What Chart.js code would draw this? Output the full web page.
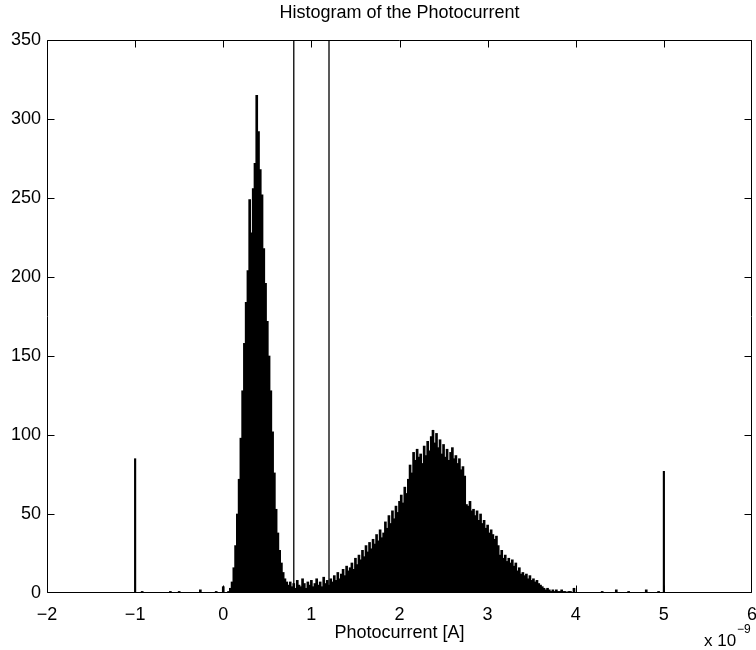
<!DOCTYPE html>
<html>
<head>
<meta charset="utf-8">
<title>Histogram of the Photocurrent</title>
<script src="https://cdn.jsdelivr.net/npm/chart.js@4/dist/chart.umd.min.js"></script>
<style>
  html, body { margin: 0; padding: 0; background: #fff; overflow: hidden; }
  canvas { display: block; }
</style>
</head>
<body>
<canvas id="hist" width="756" height="650"></canvas>
<script>
// histogram bins (x in units of 1e-9 A)
var binStart = 0.06;
var binWidth = 0.02;
var counts = [
  1, 3, 7, 16, 30, 50, 72, 98, 128, 158,          // 0.06 - 0.24
  184, 204, 249, 228, 256, 272, 315, 292, 268, 252, // 0.26 - 0.44
  218, 196, 172, 150, 128, 102, 76, 53, 38, 27,   // 0.46 - 0.64
  19, 13, 9, 7, 5, 7, 4, 6, 3, 8,                 // 0.66 - 0.84
  5, 4, 9, 6, 3, 7, 5, 8, 4, 6,                   // 0.86 - 1.04
  9, 5, 7, 4, 10, 6, 8, 5, 9, 7,                  // 1.06 - 1.24
  11, 8, 13, 9, 12, 15, 11, 17, 14, 16,           // 1.26 - 1.44
  19, 15, 22, 18, 24, 21, 27, 23, 30, 26,         // 1.46 - 1.64
  32, 28, 34, 31, 37, 33, 40, 35, 38, 45,         // 1.66 - 1.84
  41, 49, 44, 52, 47, 55, 51, 58, 62, 57,         // 1.86 - 2.04
  67, 63, 72, 81, 76, 89, 84, 91, 86, 88,         // 2.06 - 2.24
  82, 93, 87, 96, 90, 99, 103, 95, 101, 92,       // 2.26 - 2.44
  97, 88, 94, 86, 91, 84, 89, 92, 85, 87,         // 2.46 - 2.64
  82, 85, 78, 80, 74, 56, 55, 58, 52, 53,         // 2.66 - 2.84
  49, 52, 46, 50, 44, 46, 41, 43, 38, 40,         // 2.86 - 3.04
  37, 34, 36, 30, 24, 27, 22, 24, 20, 22,         // 3.06 - 3.24
  19, 21, 17, 19, 14, 16, 12, 13, 11, 12,         // 3.26 - 3.44
  9, 11, 8, 9, 7, 8, 6, 5, 4, 3,                  // 3.46 - 3.64
  2, 3, 2, 1, 2, 1, 2, 1, 1, 2,                   // 3.66 - 3.84
  1, 1, 0, 1, 1, 0, 3                             // 3.86 - 3.98
];

// a few stray counts away from the two humps
var sparseX = [-0.92, -0.60, -0.50, -0.26, -0.08, 0.00, 4.30, 4.46, 4.60, 4.80, 4.94];
var sparseCounts = [1, 1, 1, 2, 1, 4, 1, 2, 1, 2, 1];

// clipped outliers piled up at the range limits
var outlierX = [-1, 5];
var outlierCounts = [85, 77];

// threshold markers
var thresholds = [0.8, 1.2];

var xTicks = { min: -2, max: 6, step: 1 };
var yTicks = { min: 0, max: 350, step: 50 };

(function() {
    'use strict';

    var FONT = "'Liberation Sans', Arial, Helvetica, sans-serif";

    function minus(v) {
        return String(v).replace('-', '\u2212');
    }

    // MATLAB style box with inward ticks on all four sides, plus the exponent
    var matlabFrame = {
        id: 'matlabFrame',
        afterDatasetsDraw: function(chart) {
            var ctx = chart.ctx;
            var x = chart.scales.x;
            var y = chart.scales.y;
            var len = 7;
            // box edges taken from the scales themselves
            var L = Math.round(x.getPixelForValue(xTicks.min)) + 0.5;
            var R = Math.round(x.getPixelForValue(xTicks.max)) - 0.5;
            var T = Math.round(y.getPixelForValue(yTicks.max)) + 0.5;
            var B = Math.round(y.getPixelForValue(yTicks.min)) - 0.5;
            ctx.save();
            ctx.strokeStyle = '#000';
            ctx.lineWidth = 1;
            ctx.beginPath();
            x.ticks.forEach(function(t) {
                var px = Math.min(R, Math.round(x.getPixelForValue(t.value)) + 0.5);
                ctx.moveTo(px, B); ctx.lineTo(px, B - len);
                ctx.moveTo(px, T); ctx.lineTo(px, T + len);
            });
            y.ticks.forEach(function(t) {
                var py = Math.min(B, Math.round(y.getPixelForValue(t.value)) + 0.5);
                ctx.moveTo(L, py); ctx.lineTo(L + len, py);
                ctx.moveTo(R, py); ctx.lineTo(R - len, py);
            });
            ctx.moveTo(L, T); ctx.lineTo(R, T); ctx.lineTo(R, B);
            ctx.lineTo(L, B); ctx.closePath();
            ctx.stroke();
            ctx.restore();
        },
        afterDraw: function(chart) {
            var ctx = chart.ctx;
            ctx.save();
            ctx.fillStyle = '#000';
            ctx.textBaseline = 'alphabetic';
            ctx.textAlign = 'left';
            ctx.font = '17px ' + FONT;
            ctx.fillText('x 10', 704, 646);
            ctx.font = '12px ' + FONT;
            ctx.fillText('\u22129', 737, 633);
            ctx.restore();
        }
    };

    function initChart() {
        var canvas = document.getElementById('hist');
        if (!canvas) return;

        var histData = counts.map(function(c, i) {
            return { x: binStart + i * binWidth, y: c };
        });
        sparseX.forEach(function(v, i) {
            histData.push({ x: v, y: sparseCounts[i] });
        });
        var outlierData = outlierX.map(function(v, i) {
            return { x: v, y: outlierCounts[i] };
        });

        var datasets = [{
            type: 'bar',
            label: 'counts',
            data: histData,
            backgroundColor: '#000',
            borderWidth: 0,
            barThickness: 2,
            grouped: false
        }, {
            type: 'bar',
            label: 'outliers',
            data: outlierData,
            backgroundColor: '#000',
            borderWidth: 0,
            barThickness: 1.5,
            grouped: false
        }];

        thresholds.forEach(function(t) {
            datasets.push({
                type: 'line',
                label: 'threshold ' + t,
                data: [{ x: t, y: yTicks.min }, { x: t, y: yTicks.max }],
                borderColor: '#222',
                borderWidth: 1.5,
                pointRadius: 0,
                fill: false
            });
        });

        new Chart(canvas, {
            type: 'bar',
            data: { datasets: datasets },
            options: {
                responsive: false,
                animation: false,
                layout: { padding: { left: 0, right: 4, top: 0, bottom: 0 } },
                plugins: {
                    legend: { display: false },
                    tooltip: { enabled: false },
                    title: {
                        display: true,
                        fullSize: false,
                        text: 'Histogram of the Photocurrent',
                        color: '#000',
                        font: { family: FONT, size: 18, weight: 'normal' },
                        padding: { top: 2, bottom: 16.4 }
                    }
                },
                scales: {
                    x: {
                        type: 'linear',
                        offset: false,
                        min: xTicks.min,
                        max: xTicks.max,
                        grid: { display: false, drawTicks: false, offset: false },
                        border: { display: false },
                        ticks: {
                            stepSize: xTicks.step,
                            color: '#000',
                            padding: 11,
                            font: { family: FONT, size: 18 },
                            callback: minus
                        },
                        title: {
                            display: true,
                            text: 'Photocurrent [A]',
                            color: '#000',
                            font: { family: FONT, size: 18 },
                            padding: { top: 0, bottom: 6 }
                        },
                        afterFit: function(scale) {
                            scale.height = 57;
                            scale.paddingLeft = 0;
                            scale.paddingRight = 0;
                        }
                    },
                    y: {
                        min: yTicks.min,
                        max: yTicks.max,
                        grid: { display: false, drawTicks: false },
                        border: { display: false },
                        ticks: {
                            stepSize: yTicks.step,
                            color: '#000',
                            padding: 6,
                            font: { family: FONT, size: 18 },
                            callback: minus
                        },
                        afterFit: function(scale) {
                            scale.width = 47;
                            scale.paddingTop = 0;
                            scale.paddingBottom = 0;
                        }
                    }
                }
            },
            plugins: [matlabFrame]
        });
    }

    if (document.readyState === 'loading') {
        document.addEventListener('DOMContentLoaded', initChart);
    } else {
        initChart();
    }
})();
</script>
</body>
</html>
